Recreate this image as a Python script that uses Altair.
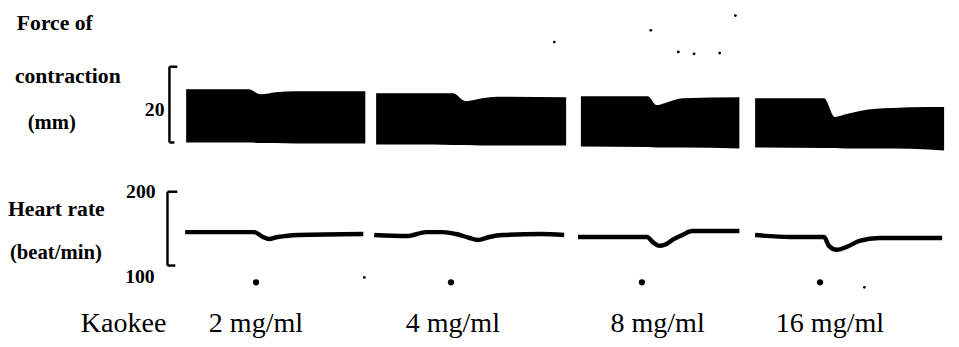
import altair as alt
import pandas as pd

# ---------------- data (read from the recording) ----------------
# time axis: arbitrary recording units
# Force of contraction envelope (mm): top = systolic peak, bottom = diastolic trough
f1_t = [181, 244, 257, 272, 292, 363]
f1_top = [19.03, 19.03, 17.73, 18.25, 18.51, 18.51]
f1_bot = [5.00, 5.00, 4.87, 4.87, 4.74, 4.74]

f2_t = [374, 432, 452, 465, 482, 497, 567]
f2_top = [17.99, 17.99, 17.99, 15.91, 16.69, 17.08, 16.95]
f2_bot = [4.48, 4.48, 4.35, 4.35, 4.22, 4.22, 4.22]

f3_t = [582, 650, 659, 667, 685, 743]
f3_top = [17.21, 17.21, 14.87, 15.39, 16.69, 16.95]
f3_bot = [3.96, 3.83, 3.70, 3.70, 3.70, 3.44]

f4_t = [759, 829, 840, 852, 879, 899, 935, 951]
f4_top = [16.69, 16.69, 11.75, 12.53, 13.83, 14.09, 14.35, 14.35]
f4_bot = [3.70, 3.57, 3.57, 3.44, 3.44, 3.44, 3.18, 2.92]

# Heart rate (beat/min)
h1_t = [180, 250, 259, 265, 274, 282, 295, 361]
h1_bpm = [145.3, 145.3, 138.7, 136.0, 138.7, 140.0, 141.3, 142.7]

h2_t = [372, 405, 425, 442, 455, 469, 477, 489, 502, 542, 565]
h2_bpm = [141.3, 140.0, 145.3, 145.3, 142.7, 137.3, 134.7, 138.7, 141.3, 142.7, 141.3]

h3_t = [579, 649, 656, 662, 669, 675, 685, 695, 743]
h3_bpm = [138.7, 138.7, 130.7, 126.7, 129.3, 134.7, 141.3, 146.7, 146.7]

h4_t = [759, 795, 829, 834, 842, 852, 865, 885, 949]
h4_bpm = [141.3, 138.7, 138.7, 126.7, 121.3, 125.3, 133.3, 137.3, 137.3]

# Kaokee administration marks
dose_labels = ["2 mg/ml", "4 mg/ml", "8 mg/ml", "16 mg/ml"]
dose_t = [252, 450, 644, 825]

# scale bars
force_bar = [5, 25]        # 20 mm
hr_bar = [100, 200]        # beat/min

# scan specks (on force scale)
speck_t = [653, 681, 723, 697, 555, 739, 362, 870]
speck_f = [34.6, 28.9, 28.6, 28.4, 31.5, 38.5, -30.6, -33.2]

# ---------------- tables ----------------
def seg_frame(ts, cols, seg):
    d = {"t": ts, "seg": seg}
    d.update(cols)
    return pd.DataFrame(d)

df_force = pd.concat([
    seg_frame(f1_t, {"top": f1_top, "bot": f1_bot}, 1),
    seg_frame(f2_t, {"top": f2_top, "bot": f2_bot}, 2),
    seg_frame(f3_t, {"top": f3_top, "bot": f3_bot}, 3),
    seg_frame(f4_t, {"top": f4_top, "bot": f4_bot}, 4),
])
df_hr = pd.concat([
    seg_frame(h1_t, {"bpm": h1_bpm}, 1),
    seg_frame(h2_t, {"bpm": h2_bpm}, 2),
    seg_frame(h3_t, {"bpm": h3_bpm}, 3),
    seg_frame(h4_t, {"bpm": h4_bpm}, 4),
])
df_dose = pd.DataFrame({"t": dose_t, "dose": dose_labels})
df_speck = pd.DataFrame({"t": speck_t, "f": speck_f})

W, H = 943, 331
XS = alt.Scale(domain=[0, 943], nice=False, zero=False)
FS = alt.Scale(domain=[-46.17, 39.81], nice=False, zero=False)
HS = alt.Scale(domain=[4, 445.33], nice=False, zero=False)
SERIF = "Liberation Serif"

def X(f):
    return alt.X(f, type="quantitative", scale=XS, axis=None)

def FY(f):
    return alt.Y(f, type="quantitative", scale=FS, axis=None)

def HY(f):
    return alt.Y(f, type="quantitative", scale=HS, axis=None)

force_area = alt.Chart(df_force).mark_area(color="black", opacity=1, interpolate="monotone").encode(
    x=X("t"), y=FY("top"), y2="bot", detail="seg:N"
)
hr_line = alt.Chart(df_hr).mark_line(color="black", strokeWidth=4.5, strokeCap="butt",
                                     interpolate="monotone").encode(
    x=X("t"), y=HY("bpm"), detail="seg:N"
)

df_fbar = pd.DataFrame({"t": [164], "lo": [force_bar[0]], "hi": [force_bar[1]]})
df_fticks = pd.DataFrame({"t0": [164, 164], "t1": [172, 169], "v": [force_bar[1], force_bar[0]]})
df_hbar = pd.DataFrame({"t": [162], "lo": [hr_bar[0]], "hi": [hr_bar[1]]})
df_hticks = pd.DataFrame({"t0": [162, 162], "t1": [172, 170], "v": [hr_bar[1], hr_bar[0]]})

fbar = alt.Chart(df_fbar).mark_rule(color="black", strokeWidth=2.5).encode(x=X("t"), y=FY("lo"), y2="hi")
fticks = alt.Chart(df_fticks).mark_rule(color="black", strokeWidth=2.5).encode(x=X("t0"), x2="t1", y=FY("v"))
hbar = alt.Chart(df_hbar).mark_rule(color="black", strokeWidth=2.5).encode(x=X("t"), y=HY("lo"), y2="hi")
hticks = alt.Chart(df_hticks).mark_rule(color="black", strokeWidth=2.5).encode(x=X("t0"), x2="t1", y=HY("v"))

dots = alt.Chart(df_dose).mark_circle(color="black", opacity=1, size=40).encode(
    x=X("t"), y=alt.value(276)
)
specks = alt.Chart(df_speck).mark_circle(color="black", opacity=1, size=8).encode(
    x=X("t"), y=FY("f")
)

def label(txt, x, y, size, bold=False, align="left"):
    return alt.Chart(pd.DataFrame({"a": [0]})).mark_text(
        text=txt, font=SERIF, fontSize=size,
        fontWeight="bold" if bold else "normal", align=align,
        baseline="alphabetic", color="black"
    ).encode(x=alt.value(x), y=alt.value(y))

texts = [
    label("Force of", 9, 20, 22, True),
    label("contraction", 7, 74, 22, True),
    label("(mm)", 20, 120, 21, True),
    label("20", 159, 107, 20, True, "right"),
    label("200", 120, 190, 20, True),
    label("Heart rate", 0, 209, 22, True),
    label("(beat/min)", 2, 252, 21, True),
    label("100", 119, 277, 20, True),
    label("Kaokee", 74, 327, 28.5),
    label(dose_labels[0], 204, 327, 28.5),
    label(dose_labels[1], 404, 327, 28.5),
    label(dose_labels[2], 612, 327, 28.5),
    label(dose_labels[3], 780, 327, 28.5),
]

chart = alt.layer(
    force_area, hr_line, fbar, fticks, hbar, hticks, dots, specks, *texts
).resolve_scale(y="independent").properties(
    width=W, height=H, padding=0, background="white"
).configure_view(strokeWidth=0)

chart.save("out.html", embed_options={"renderer": "svg", "actions": False})
